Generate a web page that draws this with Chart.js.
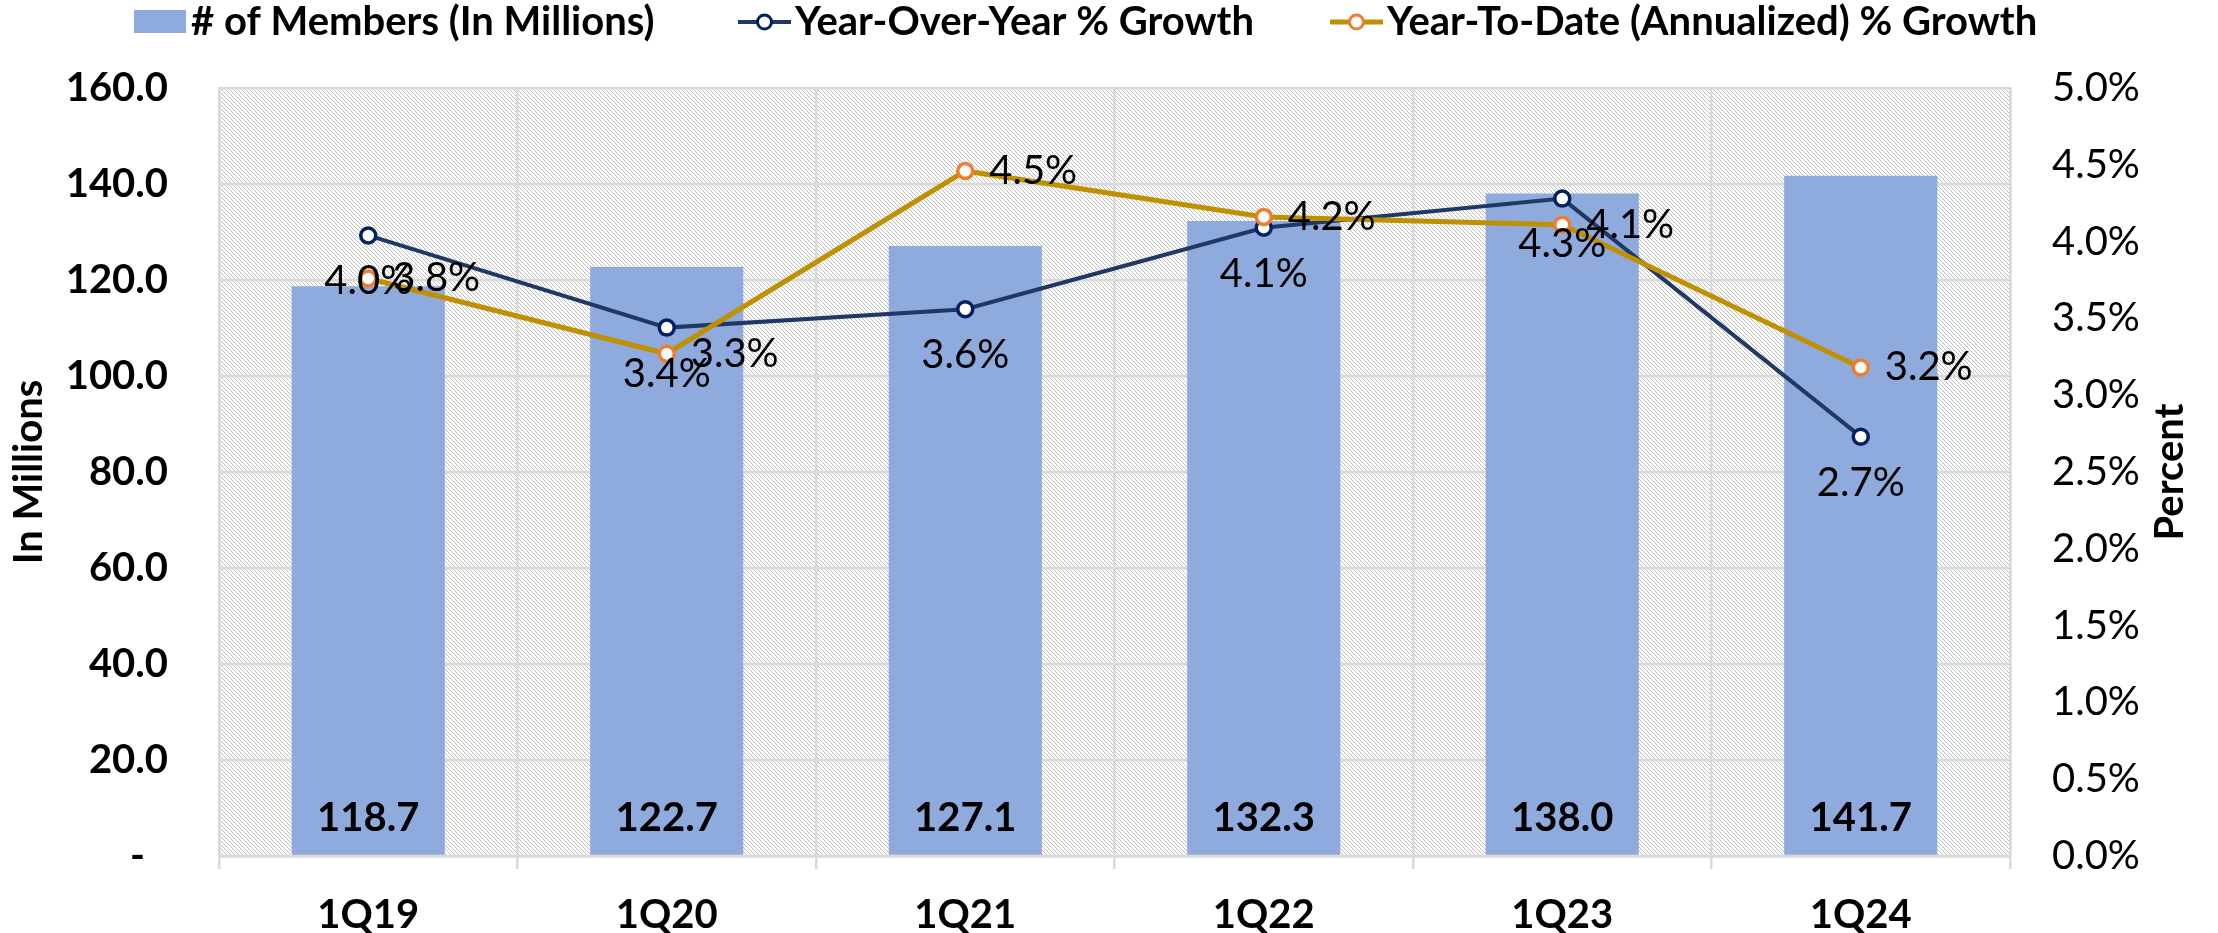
<!DOCTYPE html>
<html>
<head>
<meta charset="utf-8">
<script src="https://cdn.jsdelivr.net/npm/chart.js@4.4.0/dist/chart.umd.min.js"></script>
<style>
  html, body { margin: 0; padding: 0; background: #fff; }
  #wrap { width: 2218px; height: 933px; }
</style>
</head>
<body>
<div id="wrap"><canvas id="myChart" width="2218" height="933"></canvas></div>
<script>
var quarters = ['1Q19', '1Q20', '1Q21', '1Q22', '1Q23', '1Q24'];
var members = [118.7, 122.7, 127.1, 132.3, 138.0, 141.7];
var yoyGrowth = [4.04, 3.44, 3.56, 4.09, 4.28, 2.73];
var ytdGrowth = [3.76, 3.27, 4.46, 4.16, 4.11, 3.18];

var leftAxis = { min: 0, max: 160, step: 20 };
var rightAxis = { min: 0, max: 5, step: 0.5 };

var GRID = '#d9d9d9';
var FONT = 'Lato';
var FS = 40;

// excel style "light downward diagonal" fill for the plot area
function makeHatch() {
  var c = document.createElement('canvas');
  c.width = 8; c.height = 8;
  var g = c.getContext('2d');
  g.fillStyle = '#ffffff';
  g.fillRect(0, 0, 8, 8);
  g.fillStyle = '#bfbfbf';
  for (var i = 0; i < 8; i++) {
    g.fillRect(i, i, 1, 1);
    g.fillRect((i + 4) % 8, i, 1, 1);
  }
  return c;
}

var decor = {
  id: 'decor',
  beforeDraw: function(chart) {
    var a = chart.chartArea, ctx = chart.ctx;
    ctx.save();
    ctx.fillStyle = ctx.createPattern(makeHatch(), 'repeat');
    ctx.fillRect(a.left, a.top, a.right - a.left, a.bottom - a.top);
    ctx.restore();
  },
  afterDatasetsDraw: function(chart) {
    var ctx = chart.ctx;
    var zeroY = chart.scales.y.getPixelForValue(0);
    ctx.save();
    ctx.fillStyle = '#000';
    ctx.textBaseline = 'middle';

    // bar values at the foot of each bar
    ctx.font = 'bold ' + FS + 'px ' + FONT;
    ctx.textAlign = 'center';
    chart.getDatasetMeta(0).data.forEach(function(el, i) {
      ctx.fillText(members[i].toFixed(1), el.x, zeroY - 38);
    });

    ctx.font = FS + 'px ' + FONT;
    // yoy labels below the point
    chart.getDatasetMeta(1).data.forEach(function(el, i) {
      ctx.fillText(yoyGrowth[i].toFixed(1) + '%', el.x, el.y + 46);
    });
    // ytd labels right of the point
    ctx.textAlign = 'left';
    chart.getDatasetMeta(2).data.forEach(function(el, i) {
      ctx.fillText(ytdGrowth[i].toFixed(1) + '%', el.x + 24, el.y);
    });
    ctx.restore();
  },
  afterDraw: function(chart) {
    var ctx = chart.ctx;
    var ds = chart.data.datasets;
    var starts = [134, 738, 1330];
    var cy = 22;
    ctx.save();
    ctx.font = 'bold ' + FS + 'px ' + FONT;
    ctx.textBaseline = 'middle';
    ctx.textAlign = 'left';
    ds.forEach(function(d, i) {
      var x = starts[i];
      if (d.type === 'line') {
        ctx.strokeStyle = d.borderColor;
        ctx.lineWidth = d.borderWidth;
        ctx.beginPath();
        ctx.moveTo(x, cy);
        ctx.lineTo(x + 53, cy);
        ctx.stroke();
        ctx.beginPath();
        ctx.arc(x + 26.5, cy, 7, 0, Math.PI * 2);
        ctx.fillStyle = '#fff';
        ctx.fill();
        ctx.lineWidth = 3;
        ctx.strokeStyle = d.pointBorderColor;
        ctx.stroke();
      } else {
        ctx.fillStyle = d.backgroundColor;
        ctx.fillRect(x, 10, 52, 23);
      }
      ctx.fillStyle = '#000';
      ctx.fillText(d.label, x + 57, cy);
    });

    // secondary axis title, reading bottom to top like the primary one
    var a = chart.chartArea;
    ctx.translate(2170, (a.top + a.bottom) / 2);
    ctx.rotate(-Math.PI / 2);
    ctx.textAlign = 'center';
    ctx.fillText('Percent', 0, 0);
    ctx.restore();
  }
};

var ctx = document.getElementById('myChart').getContext('2d');
Chart.defaults.font.family = FONT;
Chart.defaults.font.size = FS;
Chart.defaults.color = '#000';

var chart = new Chart(ctx, {
  type: 'bar',
  data: {
    labels: quarters,
    datasets: [{
      type: 'bar',
      label: '# of Members (In Millions)',
      data: members,
      backgroundColor: '#8FAADC',
      barPercentage: 0.513,
      categoryPercentage: 1,
      yAxisID: 'y',
      order: 3
    }, {
      type: 'line',
      label: 'Year-Over-Year % Growth',
      data: yoyGrowth,
      borderColor: '#1F3864',
      borderWidth: 4,
      pointRadius: 7.5,
      pointBorderWidth: 3.5,
      pointBackgroundColor: '#fff',
      pointBorderColor: '#002060',
      tension: 0,
      yAxisID: 'y1',
      order: 2
    }, {
      type: 'line',
      label: 'Year-To-Date (Annualized) % Growth',
      data: ytdGrowth,
      borderColor: '#BF9000',
      borderWidth: 5,
      pointRadius: 7.5,
      pointBorderWidth: 3.5,
      pointBackgroundColor: '#fff',
      pointBorderColor: '#ED7D31',
      tension: 0,
      yAxisID: 'y1',
      order: 1
    }]
  },
  options: {
    responsive: false,
    animation: false,
    devicePixelRatio: 1,
    events: [],
    layout: { padding: { top: 88, left: 0, right: 0, bottom: 0 } },
    plugins: {
      legend: { display: false },
      tooltip: { enabled: false }
    },
    scales: {
      x: {
        grid: { color: GRID, lineWidth: 2.5, tickLength: 13, offset: true },
        border: { color: GRID, width: 2.5 },
        ticks: { font: { weight: 'bold' }, padding: 22, maxRotation: 0 },
        afterFit: function(s) { s.height = 77; }
      },
      y: {
        position: 'left',
        min: leftAxis.min,
        max: leftAxis.max,
        ticks: {
          stepSize: leftAxis.step,
          padding: 51,
          font: { weight: 'bold' },
          callback: function(v) { return v === 0 ? '-\u2007' : v.toFixed(1); }
        },
        grid: { color: GRID, lineWidth: 2.5, drawTicks: false },
        border: { color: GRID, width: 2.5 },
        title: {
          display: true,
          text: 'In Millions',
          font: { weight: 'bold' },
          padding: { top: 5, bottom: 0 }
        },
        afterFit: function(s) { s.width = 219; }
      },
      y1: {
        position: 'right',
        min: rightAxis.min,
        max: rightAxis.max,
        ticks: {
          stepSize: rightAxis.step,
          padding: 42,
          callback: function(v) { return v.toFixed(1) + '%'; }
        },
        grid: { drawOnChartArea: false, drawTicks: false },
        border: { color: GRID, width: 2.5 },
        afterFit: function(s) { s.width = 208; }
      }
    }
  },
  plugins: [decor]
});
</script>
</body>
</html>
